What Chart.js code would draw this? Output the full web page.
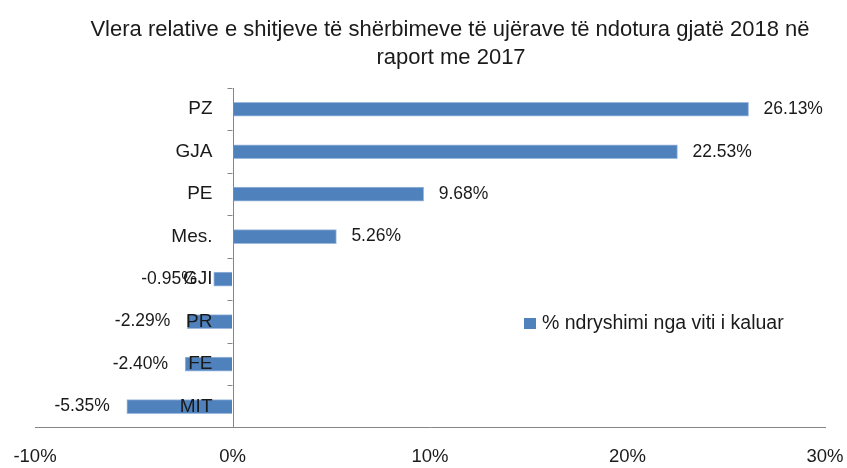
<!DOCTYPE html>
<html>
<head>
<meta charset="utf-8">
<script src="https://cdn.jsdelivr.net/npm/chart.js@4"></script>
<style>
    html, body { margin: 0; padding: 0; background: #fff; }
    #wrap { width: 847px; height: 468px; }
</style>
</head>
<body>
<div id="wrap"><canvas id="chart" width="847" height="468"></canvas></div>
<script>
// Chart data
const categories = ['PZ', 'GJA', 'PE', 'Mes.', 'GJI', 'PR', 'FE', 'MIT'];
const changeValues = [26.13, 22.53, 9.68, 5.26, -0.95, -2.29, -2.40, -5.35];
const seriesLabel = '% ndryshimi nga viti i kaluar';
const titleLines = ['Vlera relative e shitjeve të shërbimeve të ujërave të ndotura gjatë 2018 në', 'raport me 2017'];
const xTicks = [-10, 0, 10, 20, 30];

const FONT = "'Liberation Sans', Arial, sans-serif";
const BAR_COLOR = '#4F81BD';
const BAR_EDGE = '#9DB9DE';
const AXIS_COLOR = '#868686';
const TEXT_COLOR = '#1a1a1a';

// Title, y axis at zero, category + value labels, legend
const decorPlugin = {
    id: 'decor',
    afterDraw(chart) {
        const ctx = chart.ctx;
        const xs = chart.scales.x;
        const ys = chart.scales.y;
        const area = chart.chartArea;
        const x0 = xs.getPixelForValue(0);
        const meta = chart.getDatasetMeta(0);
        ctx.save();

        // title
        ctx.fillStyle = TEXT_COLOR;
        ctx.font = '22px ' + FONT;
        ctx.textAlign = 'center';
        ctx.textBaseline = 'middle';
        ctx.fillText(titleLines[0], 450, 30);
        ctx.fillText(titleLines[1], 451, 58);

        // vertical axis at 0 with tick marks between categories
        ctx.strokeStyle = AXIS_COLOR;
        ctx.lineWidth = 1;
        ctx.beginPath();
        ctx.moveTo(Math.round(x0) + 0.5, area.top);
        ctx.lineTo(Math.round(x0) + 0.5, area.bottom);
        for (let i = 0; i < categories.length; i++) {
            const yb = Math.round(ys.getPixelForValue(i - 0.5)) + 0.5;
            ctx.moveTo(x0 - 5, yb);
            ctx.lineTo(x0, yb);
        }
        ctx.stroke();

        // category labels next to the zero axis
        ctx.font = '19px ' + FONT;
        ctx.textAlign = 'right';
        categories.forEach((c, i) => {
            ctx.fillText(c, x0 - 20, ys.getPixelForValue(i));
        });

        // value labels
        ctx.font = '17.5px ' + FONT;
        meta.data.forEach((bar, i) => {
            const v = changeValues[i];
            const txt = v.toFixed(2) + '%';
            if (v >= 0) {
                ctx.textAlign = 'left';
                ctx.fillText(txt, bar.x + 15, bar.y);
            } else {
                ctx.textAlign = 'right';
                ctx.fillText(txt, bar.x - 17, bar.y);
            }
        });

        // legend
        ctx.fillStyle = BAR_COLOR;
        ctx.fillRect(524, 318, 12, 11);
        ctx.fillStyle = TEXT_COLOR;
        ctx.font = '19.5px ' + FONT;
        ctx.textAlign = 'left';
        ctx.fillText(chart.data.datasets[0].label, 542, 324);
        ctx.restore();
    }
};

const ctx = document.getElementById('chart').getContext('2d');
new Chart(ctx, {
    type: 'bar',
    data: {
        labels: categories,
        datasets: [{
            label: seriesLabel,
            data: changeValues,
            backgroundColor: BAR_COLOR,
            borderColor: BAR_EDGE,
            borderWidth: 1,
            borderSkipped: 'start',
            barThickness: 14
        }]
    },
    options: {
        indexAxis: 'y',
        responsive: false,
        animation: false,
        layout: {
            padding: { top: 88, left: 35, right: 22, bottom: -18 }
        },
        scales: {
            x: {
                min: -10,
                max: 30,
                afterBuildTicks(scale) {
                    scale.ticks = xTicks.map(v => ({ value: v }));
                },
                afterFit(scale) {
                    scale.paddingLeft = 0;
                    scale.paddingRight = 0;
                },
                grid: { drawOnChartArea: false, drawTicks: false },
                border: { color: AXIS_COLOR, width: 1 },
                ticks: {
                    padding: 18,
                    color: TEXT_COLOR,
                    font: { family: FONT, size: 18.5 },
                    maxRotation: 0,
                    callback: v => v + '%'
                }
            },
            y: {
                display: false
            }
        },
        plugins: {
            legend: { display: false },
            title: { display: false },
            tooltip: { enabled: false }
        }
    },
    plugins: [decorPlugin]
});
</script>
</body>
</html>
